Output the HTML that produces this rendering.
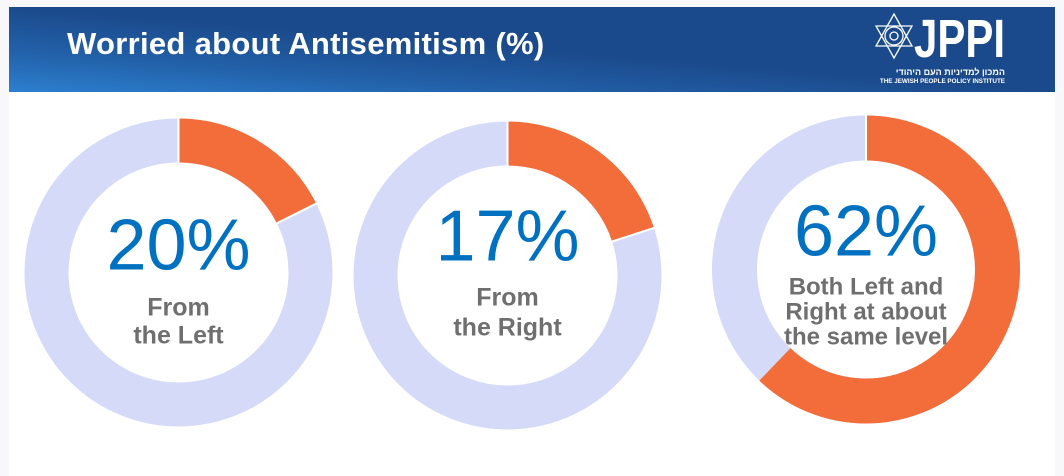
<!DOCTYPE html>
<html><head><meta charset="utf-8"><style>
html,body{margin:0;padding:0;background:#f8f8fb;}
body{width:1064px;height:476px;position:relative;overflow:hidden;font-family:"Liberation Sans","Noto Sans CJK SC",sans-serif;}
.card{position:absolute;left:9px;top:7px;width:1046px;height:469px;background:#fff;}
.hdr{position:absolute;left:9px;top:7px;width:1046px;height:85px;background:linear-gradient(to top right,#2c7fcf 0%,#2260a8 25%,#1b4a8c 50%,#1a4a8c 100%);}
.title{position:absolute;left:67px;top:26px;color:#fff;font-weight:bold;font-size:31px;letter-spacing:0.3px;}
</style></head><body>
<div class="card"></div>
<div class="hdr"></div>
<div class="title">Worried about Antisemitism (%)</div>
<svg width="1064" height="476" style="position:absolute;left:0;top:0">
 <g stroke="#fff" stroke-width="1.3" fill="none">
  <polygon points="894,14 912,46 876,46"/>
  <polygon points="894,58 912,26 876,26"/>
  <circle cx="894" cy="36" r="9"/>
  <circle cx="894" cy="36" r="4"/>
 </g>
 <text x="914" y="57" fill="#fff" font-family="Liberation Sans" font-weight="bold" font-size="54" textLength="91" lengthAdjust="spacingAndGlyphs">JPPI</text>
 <text x="1005" y="75" fill="#fff" font-family="Liberation Sans,Noto Sans CJK SC,sans-serif" font-size="9" font-weight="bold" text-anchor="end">המכון למדיניות העם היהודי</text>
 <text x="1005" y="83" fill="#fff" font-family="Liberation Sans" font-size="6.3" font-weight="bold" text-anchor="end">THE JEWISH PEOPLE POLICY INSTITUTE</text>

 <g transform="translate(178.5,272.5)">
  <circle r="132" fill="none" stroke="#d4daf7" stroke-width="44"/>
  <circle r="132" fill="none" stroke="#f26d3a" stroke-width="44" stroke-dasharray="146 1000" transform="rotate(-90)"/>
  <line x1="0" y1="-110" x2="0" y2="-156" stroke="#fff" stroke-width="2"/>
  <line x1="98.4" y1="-49.2" x2="139.5" y2="-69.8" stroke="#fff" stroke-width="2"/>
  <text y="-3" text-anchor="middle" fill="#0070c0" font-size="72" font-family="Liberation Sans">20%</text>
  <text y="43" text-anchor="middle" fill="#6f6f6f" font-size="25" font-weight="bold" font-family="Liberation Sans">From</text>
  <text y="71" text-anchor="middle" fill="#6f6f6f" font-size="25" font-weight="bold" font-family="Liberation Sans">the Left</text>
 </g>
 <g transform="translate(507.5,275.5)">
  <circle r="132" fill="none" stroke="#d4daf7" stroke-width="44"/>
  <circle r="132" fill="none" stroke="#f26d3a" stroke-width="44" stroke-dasharray="166 1000" transform="rotate(-90)"/>
  <line x1="0" y1="-110" x2="0" y2="-156" stroke="#fff" stroke-width="2"/>
  <line x1="104.6" y1="-34" x2="148" y2="-48" stroke="#fff" stroke-width="2"/>
  <text y="-15" text-anchor="middle" fill="#0070c0" font-size="72" font-family="Liberation Sans">17%</text>
  <text y="30" text-anchor="middle" fill="#6f6f6f" font-size="25" font-weight="bold" font-family="Liberation Sans">From</text>
  <text y="60" text-anchor="middle" fill="#6f6f6f" font-size="25" font-weight="bold" font-family="Liberation Sans">the Right</text>
 </g>
 <g transform="translate(866,269.5)">
  <circle r="131.5" fill="none" stroke="#d4daf7" stroke-width="45"/>
  <circle r="131.5" fill="none" stroke="#f26d3a" stroke-width="45" stroke-dasharray="513.5 1000" transform="rotate(-90)"/>
  <line x1="0" y1="-109" x2="0" y2="-156" stroke="#fff" stroke-width="2"/>
  <text y="-14" text-anchor="middle" fill="#0070c0" font-size="72" font-family="Liberation Sans">62%</text>
  <text y="25" text-anchor="middle" fill="#6f6f6f" font-size="24" font-weight="bold" font-family="Liberation Sans">Both Left and</text>
  <text y="50" text-anchor="middle" fill="#6f6f6f" font-size="24" font-weight="bold" font-family="Liberation Sans">Right at about</text>
  <text y="75" text-anchor="middle" fill="#6f6f6f" font-size="24" font-weight="bold" font-family="Liberation Sans">the same level</text>
 </g>
</svg>
</body></html>
